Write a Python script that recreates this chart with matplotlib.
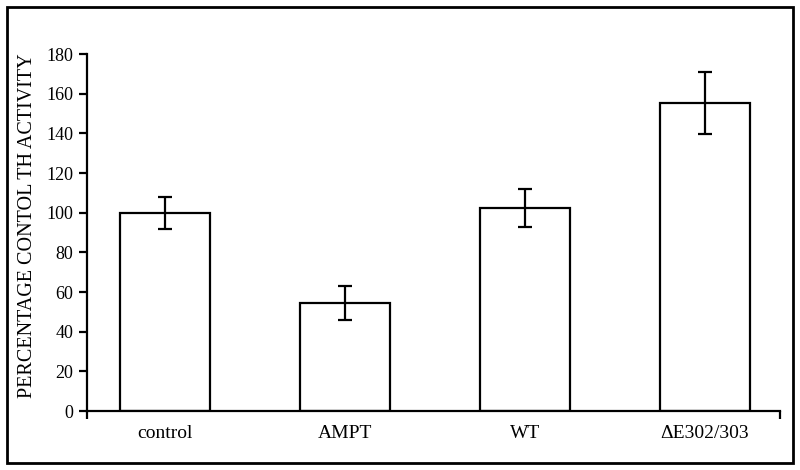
import matplotlib
matplotlib.use("Agg")
import matplotlib.pyplot as plt
from matplotlib.patches import Rectangle

categories = ["control", "AMPT", "WT", "ΔE302/303"]
values = [100, 54.6, 102.5, 155.3]
errors = [8, 8.6, 9.5, 15.5]
yticks = [0, 20, 40, 60, 80, 100, 120, 140, 160, 180]

plt.rcParams['font.family'] = ['Liberation Serif', 'DejaVu Serif']

fig = plt.figure(figsize=(8, 4.7), dpi=100)
ax = fig.add_axes([0.10875, 0.1255, 0.975 - 0.10875, 0.885 - 0.1255])

x = list(range(len(categories)))
ax.bar(x, values, width=0.5, color='white', edgecolor='black', linewidth=1.6,
       yerr=errors, capsize=5,
       error_kw=dict(ecolor='black', elinewidth=1.6, capthick=1.6))

ax.set_xlim(-0.433, 3.417)
ax.set_ylim(0, 180)
ax.set_yticks(yticks)
ax.set_xticks(x)
ax.set_xticklabels(categories, fontsize=14)
ax.tick_params(axis='x', length=0, pad=10)
ax.set_xticks([-0.433, 3.417], minor=True)
ax.tick_params(axis='x', which='minor', length=6, width=1.6, direction='out')
ax.tick_params(axis='y', length=6, width=1.6, labelsize=13, pad=4)

for s in ['top', 'right']:
    ax.spines[s].set_visible(False)
for s in ['left', 'bottom']:
    ax.spines[s].set_linewidth(1.6)

ax.set_ylabel("PERCENTAGE CONTOL TH ACTIVITY", fontsize=14.5)
ax.yaxis.set_label_coords(-0.072, 0.52)

fig.patches.append(Rectangle((7/800, 7/470), 786/800, 456/470, transform=fig.transFigure,
                             fill=False, edgecolor='black', linewidth=2))

fig.savefig("out.png", dpi=100)
